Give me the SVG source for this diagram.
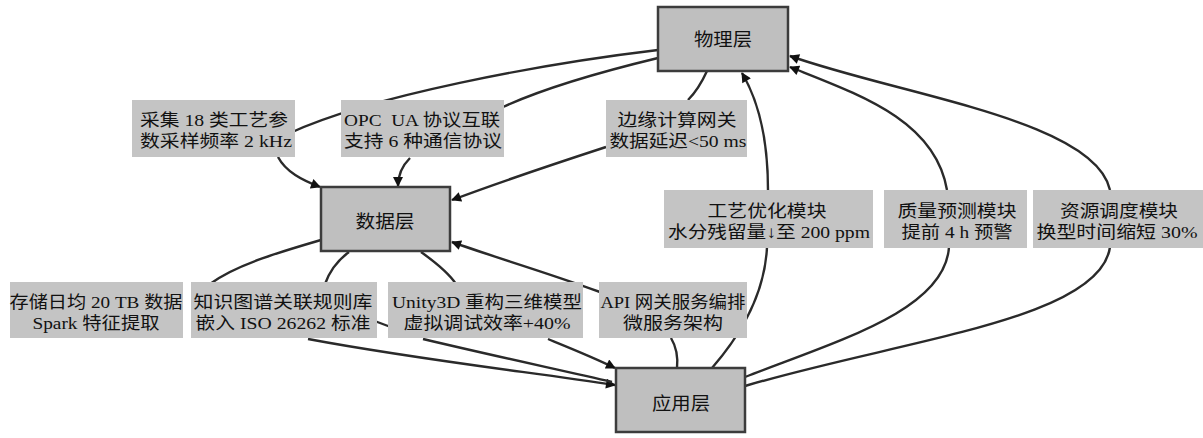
<svg xmlns="http://www.w3.org/2000/svg" width="1203" height="438" viewBox="0 0 1203 438">
<style>
.layer rect{fill:#bfbfbf;stroke:#3c3c3c;stroke-width:2.5}
.lab rect{fill:#c4c4c4;stroke:none}
text{font-family:"Liberation Serif","Noto Sans CJK SC",serif;fill:#111;text-anchor:middle;white-space:pre}
.lab text{font-size:17px}
.layer text{font-size:18px}
.edge path{fill:none;stroke:#2a2a2a;stroke-width:2.4}
</style>
<defs>
<marker id="arr" viewBox="0 0 10 10" refX="9" refY="5" markerWidth="11" markerHeight="10" markerUnits="userSpaceOnUse" orient="auto">
<path d="M0,0 L10,5 L0,10 z" fill="#111"/>
</marker>
</defs>
<rect width="1203" height="438" fill="#fff"/>
<g id="connectors" class="edge">
<path d="M658,50 C 540,64 370,96 290,133"/>
<path d="M278,157 C 286,172 302,180 320,187" marker-end="url(#arr)"/>
<path d="M658,58 C 600,72 540,90 503,107"/>
<path d="M410,158 C 402,166 398,174 398,186" marker-end="url(#arr)"/>
<path d="M707,71 C 702,82 696,92 688,100"/>
<path d="M606,147 C 560,162 500,182 452,200" marker-end="url(#arr)"/>
<path d="M321,240 C 280,252 235,265 210,284"/>
<path d="M349,252 C 338,260 330,270 325,284"/>
<path d="M421,252 C 435,262 448,272 456,284"/>
<path d="M372,320 C 380,323 388,326 396,329"/>
<path d="M308,339 C 420,360 530,372 615,385" marker-end="url(#arr)"/>
<path d="M423,339 C 490,355 560,370 612,382"/>
<path d="M548,339 C 575,350 595,358 615,368" marker-end="url(#arr)"/>
<path d="M600,292 C 540,270 490,256 452,242" marker-end="url(#arr)"/>
<path d="M671,338 C 677,348 678,358 677,368"/>
<path d="M712,368 C 745,330 765,290 767,247"/>
<path d="M768,190 C 768,140 758,100 742,73" marker-end="url(#arr)"/>
<path d="M745,377 C 840,340 945,310 949,247"/>
<path d="M947,190 C 935,120 860,95 790,67" marker-end="url(#arr)"/>
<path d="M745,386 C 900,340 1100,320 1110,247"/>
<path d="M1110,190 C 1095,120 900,95 790,56" marker-end="url(#arr)"/>
</g>
<g id="n-physical" class="layer"><rect x="658" y="7" width="130" height="64"/><text x="723" y="46" textLength="58" lengthAdjust="spacingAndGlyphs">物理层</text></g>
<g id="n-data" class="layer"><rect x="321" y="187" width="129" height="64"/><text x="385" y="228" textLength="59" lengthAdjust="spacingAndGlyphs">数据层</text></g>
<g id="n-app" class="layer"><rect x="616" y="368" width="129" height="64"/><text x="681" y="410" textLength="58" lengthAdjust="spacingAndGlyphs">应用层</text></g>
<g id="l-collect" class="lab"><rect x="132" y="100" width="163" height="57"/><text x="214" y="126" textLength="148" lengthAdjust="spacingAndGlyphs">采集 18 类工艺参</text><text x="216" y="147" textLength="152" lengthAdjust="spacingAndGlyphs">数采样频率 2 kHz</text></g>
<g id="l-opc" class="lab"><rect x="341" y="100" width="163" height="57"/><text x="422" y="126" textLength="156" lengthAdjust="spacingAndGlyphs">OPC  UA 协议互联</text><text x="423" y="147" textLength="158" lengthAdjust="spacingAndGlyphs">支持 6 种通信协议</text></g>
<g id="l-edge" class="lab"><rect x="606" y="100" width="141" height="57"/><text x="677" y="126" textLength="119" lengthAdjust="spacingAndGlyphs">边缘计算网关</text><text x="678" y="147" textLength="137" lengthAdjust="spacingAndGlyphs">数据延迟&lt;50 ms</text></g>
<g id="l-process" class="lab"><rect x="664" y="190" width="209" height="58"/><text x="767" y="217" textLength="119" lengthAdjust="spacingAndGlyphs">工艺优化模块</text><text x="769" y="238" textLength="202" lengthAdjust="spacingAndGlyphs">水分残留量↓至 200 ppm</text></g>
<g id="l-quality" class="lab"><rect x="884" y="190" width="143" height="58"/><text x="957" y="217" textLength="119" lengthAdjust="spacingAndGlyphs">质量预测模块</text><text x="957" y="238" textLength="111" lengthAdjust="spacingAndGlyphs">提前 4 h 预警</text></g>
<g id="l-resource" class="lab"><rect x="1033" y="190" width="170" height="58"/><text x="1119" y="217" textLength="118" lengthAdjust="spacingAndGlyphs">资源调度模块</text><text x="1117" y="238" textLength="161" lengthAdjust="spacingAndGlyphs">换型时间缩短 30%</text></g>
<g id="l-storage" class="lab"><rect x="10" y="282" width="173" height="56"/><text x="96" y="308" textLength="173" lengthAdjust="spacingAndGlyphs">存储日均 20 TB 数据</text><text x="96" y="329" textLength="127" lengthAdjust="spacingAndGlyphs">Spark 特征提取</text></g>
<g id="l-knowledge" class="lab"><rect x="191" y="282" width="186" height="56"/><text x="283" y="308" textLength="179" lengthAdjust="spacingAndGlyphs">知识图谱关联规则库</text><text x="283" y="329" textLength="175" lengthAdjust="spacingAndGlyphs">嵌入 ISO 26262 标准</text></g>
<g id="l-unity" class="lab"><rect x="388" y="282" width="195" height="56"/><text x="487" y="308" textLength="190" lengthAdjust="spacingAndGlyphs">Unity3D 重构三维模型</text><text x="487" y="329" textLength="167" lengthAdjust="spacingAndGlyphs">虚拟调试效率+40%</text></g>
<g id="l-api" class="lab"><rect x="599" y="282" width="148" height="56"/><text x="673" y="308" textLength="145" lengthAdjust="spacingAndGlyphs">API 网关服务编排</text><text x="673" y="329" textLength="100" lengthAdjust="spacingAndGlyphs">微服务架构</text></g>
</svg>
